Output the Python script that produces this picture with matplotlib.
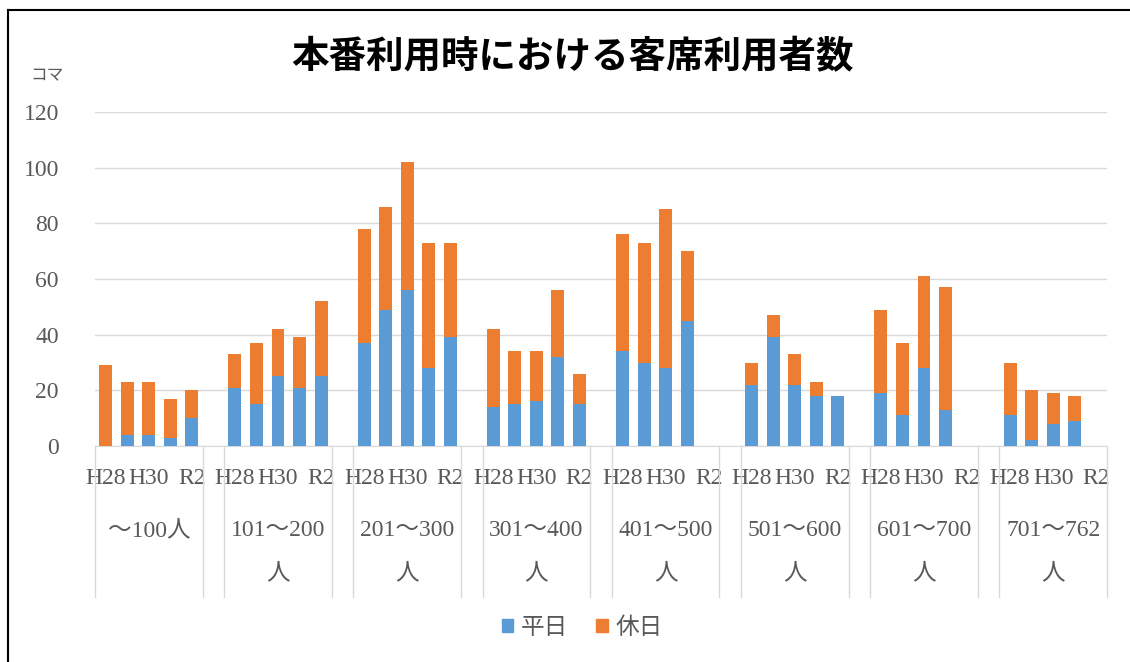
import numpy as np
import matplotlib.pyplot as plt
from matplotlib.lines import Line2D
from matplotlib.patches import Patch

years = ["H28", "H29", "H30", "R1", "R2"]
groups = ["～100人", "101～200\n人", "201～300\n人", "301～400\n人",
          "401～500\n人", "501～600\n人", "601～700\n人", "701～762\n人"]

# 平日 / 休日 per group (H28..R2)
weekday = [
    [0, 4, 4, 3, 10],
    [21, 15, 25, 21, 25],
    [37, 49, 56, 28, 39],
    [14, 15, 16, 32, 15],
    [34, 30, 28, 45, 0],
    [22, 39, 22, 18, 18],
    [19, 11, 28, 13, 0],
    [11, 2, 8, 9, 0],
]
holiday = [
    [29, 19, 19, 14, 10],
    [12, 22, 17, 18, 27],
    [41, 37, 46, 45, 34],
    [28, 19, 18, 24, 11],
    [42, 43, 57, 25, 0],
    [8, 8, 11, 5, 0],
    [30, 26, 33, 44, 0],
    [19, 18, 11, 9, 0],
]

blue = "#5B9BD5"
orange = "#ED7D31"
grid = "#D9D9D9"
txt = "#595959"
serif = ["Liberation Serif", "Noto Sans CJK JP"]

fig = plt.figure(figsize=(11.3, 6.62), dpi=100)
ax = fig.add_axes([95 / 1130, 1 - 446 / 662, (1107 - 95) / 1130, (446 - 112) / 662])

ny = len(years)
step = ny + 1
x = np.array([g * step + i for g in range(len(groups)) for i in range(ny)])
wd = np.array(weekday).ravel()
hd = np.array(holiday).ravel()

ax.bar(x, wd, width=0.6, color=blue, zorder=3)
ax.bar(x, hd, width=0.6, bottom=wd, color=orange, zorder=3)

ax.set_xlim(-0.5, len(groups) * step - 1.5)
ax.set_ylim(0, 120)
ax.set_yticks(range(0, 121, 20))
ax.grid(axis="y", color=grid, linewidth=1, zorder=0)
for s in ["top", "right", "left"]:
    ax.spines[s].set_visible(False)
ax.spines["bottom"].set_color(grid)

# tick labels: only H28, H30, R2 shown
tick_pos = [g * step + i for g in range(len(groups)) for i in (0, 2, 4)]
tick_lab = [years[i] for g in range(len(groups)) for i in (0, 2, 4)]
ax.set_xticks(tick_pos)
ax.set_xticklabels(tick_lab, family=serif, fontsize=17, color=txt)
ax.tick_params(axis="x", length=0, pad=16)
ax.tick_params(axis="y", length=0, pad=26, labelcolor=txt)
for lab in ax.get_yticklabels():
    lab.set_family(serif)
    lab.set_fontsize(17)

# group labels and separator lines
tr = ax.get_xaxis_transform()
for g, name in enumerate(groups):
    cx = g * step + (ny - 1) / 2
    ax.text(cx, -0.222, name, transform=tr, ha="center", va="top",
            family=serif, fontsize=17, color=txt, linespacing=2.4)
    for ex in (g * step - 0.5, g * step + ny - 0.5):
        ax.plot([ex, ex], [0, -0.452], transform=tr, color=grid,
                linewidth=1, clip_on=False)

fig.text(0.507, 1 - 57 / 662, "本番利用時における客席利用者数",
         family=["Noto Sans CJK JP"], fontsize=27, fontweight="bold",
         ha="center", va="center", color="black")
fig.text(30 / 1130, 1 - 76 / 662, "コマ", family=["Noto Sans CJK JP"],
         fontsize=12, color=txt, va="center")

handles = [Patch(color=blue, label="平日"), Patch(color=orange, label="休日")]
leg = fig.legend(handles=handles, loc="center", bbox_to_anchor=(0.515, 1 - 628 / 662),
                 ncol=2, frameon=False, handlelength=0.5, handleheight=0.5,
                 handletextpad=0.3, columnspacing=1.2,
                 prop={"family": serif, "size": 17})
for t in leg.get_texts():
    t.set_color(txt)

# outer border
fig.add_artist(Line2D([7.5 / 1130, 7.5 / 1130], [0, 1 - 9.5 / 662], color="black",
                      linewidth=1.5, transform=fig.transFigure))
fig.add_artist(Line2D([7.5 / 1130, 1], [1 - 9.5 / 662, 1 - 9.5 / 662], color="black",
                      linewidth=1.5, transform=fig.transFigure))

fig.savefig("out.png", dpi=100)
